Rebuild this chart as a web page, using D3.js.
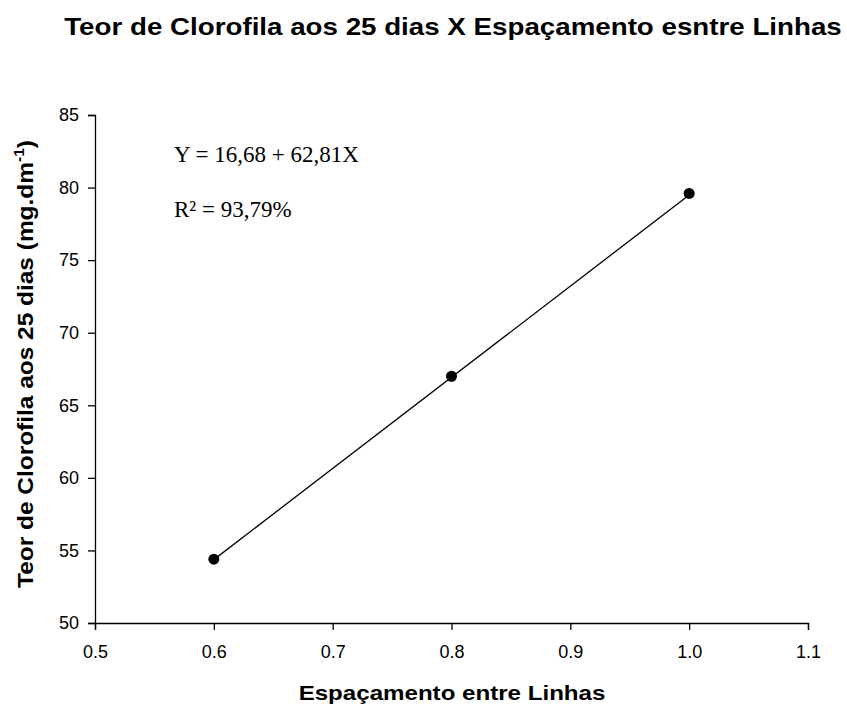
<!DOCTYPE html>
<html>
<head>
<meta charset="utf-8">
<script src="https://cdn.jsdelivr.net/npm/d3@7"></script>
<style>
  html, body { margin: 0; padding: 0; background: #fff; }
  svg { display: block; }
</style>
</head>
<body>
<script>
// Observed chlorophyll content at 25 days per row spacing
const spacing = [0.6, 0.8, 1.0];
const chlorophyll = [54.4, 67.0, 79.6];

// Linear fit Y = a + bX
const intercept = 16.68;
const slope = 62.81;
const r2Label = "R² = 93,79%";

const xTicks = [0.5, 0.6, 0.7, 0.8, 0.9, 1.0, 1.1];
const yTicks = [50, 55, 60, 65, 70, 75, 80, 85];

const W = 847, H = 705;
const svg = d3.select("body").append("svg").attr("width", W).attr("height", H);

const x = d3.scaleLinear().domain([0.5, 1.1]).range([95, 808]);
const y = d3.scaleLinear().domain([50, 85]).range([623, 115]);

const sans = "Liberation Sans, Arial, sans-serif";
const serif = "Liberation Serif, Times New Roman, serif";

// Place a text group at (tx, ty), rotated, and widen it along its baseline to a given length
function fitText(g, tx, ty, rot, targetLen) {
  const w = g.node().getBBox().width;
  const s = targetLen / w;
  g.attr("transform", `translate(${tx},${ty}) rotate(${rot}) scale(${s},1)`);
}

// Title
const title = svg.append("g");
title.append("text")
  .attr("text-anchor", "middle")
  .style("font-family", sans).style("font-weight", "bold").style("font-size", "24px")
  .text("Teor de Clorofila aos 25 dias X Espaçamento esntre Linhas");
fitText(title, 453, 35, 0, 778);

// Axes
const xAxis = d3.axisBottom(x).tickValues(xTicks).tickFormat(d3.format(".1f")).tickSizeOuter(0).tickSize(7).tickPadding(15);
const yAxis = d3.axisLeft(y).tickValues(yTicks).tickFormat(d3.format("d")).tickSizeOuter(0).tickSize(7).tickPadding(9);

const gx = svg.append("g").attr("transform", `translate(0,${y(50)})`).call(xAxis);
const gy = svg.append("g").attr("transform", `translate(${x(0.5)},0)`).call(yAxis);

[gx, gy].forEach(g => {
  g.selectAll("path, line").attr("stroke", "#000").attr("stroke-width", 1.3);
  g.selectAll("text").style("font-family", sans).style("font-size", "18px").attr("fill", "#000");
});

// Axis titles
const xl = svg.append("g");
xl.append("text")
  .attr("text-anchor", "middle")
  .style("font-family", sans).style("font-weight", "bold").style("font-size", "20px")
  .text("Espaçamento entre Linhas");
fitText(xl, 452, 700, 0, 307);

const ylg = svg.append("g");
const yl = ylg.append("text")
  .attr("text-anchor", "middle")
  .style("font-family", sans).style("font-weight", "bold").style("font-size", "22px");
yl.append("tspan").text("Teor de Clorofila aos 25 dias (mg.dm");
yl.append("tspan").attr("dy", -9).style("font-size", "14px").text("-1");
yl.append("tspan").attr("dy", 9).text(")");
fitText(ylg, 33, 364, -90, 448);

// Fitted line
const xMin = d3.min(spacing), xMax = d3.max(spacing);
svg.append("line")
  .attr("x1", x(xMin)).attr("y1", y(intercept + slope * xMin))
  .attr("x2", x(xMax)).attr("y2", y(intercept + slope * xMax))
  .attr("stroke", "#000").attr("stroke-width", 1.3);

// Observed points
svg.selectAll("circle.pt")
  .data(spacing.map((s, i) => ({ s, v: chlorophyll[i] })))
  .enter().append("circle")
  .attr("class", "pt")
  .attr("cx", d => x(d.s)).attr("cy", d => y(d.v))
  .attr("r", 5.5).attr("fill", "#000");

// Equation annotation
const eq = `Y = ${intercept.toFixed(2).replace(".", ",")} + ${slope.toFixed(2).replace(".", ",")}X`;
svg.append("text")
  .attr("x", 174).attr("y", 162)
  .style("font-family", serif).style("font-size", "23px")
  .text(eq);
svg.append("text")
  .attr("x", 174).attr("y", 217)
  .style("font-family", serif).style("font-size", "23px")
  .text(r2Label);
</script>
</body>
</html>
